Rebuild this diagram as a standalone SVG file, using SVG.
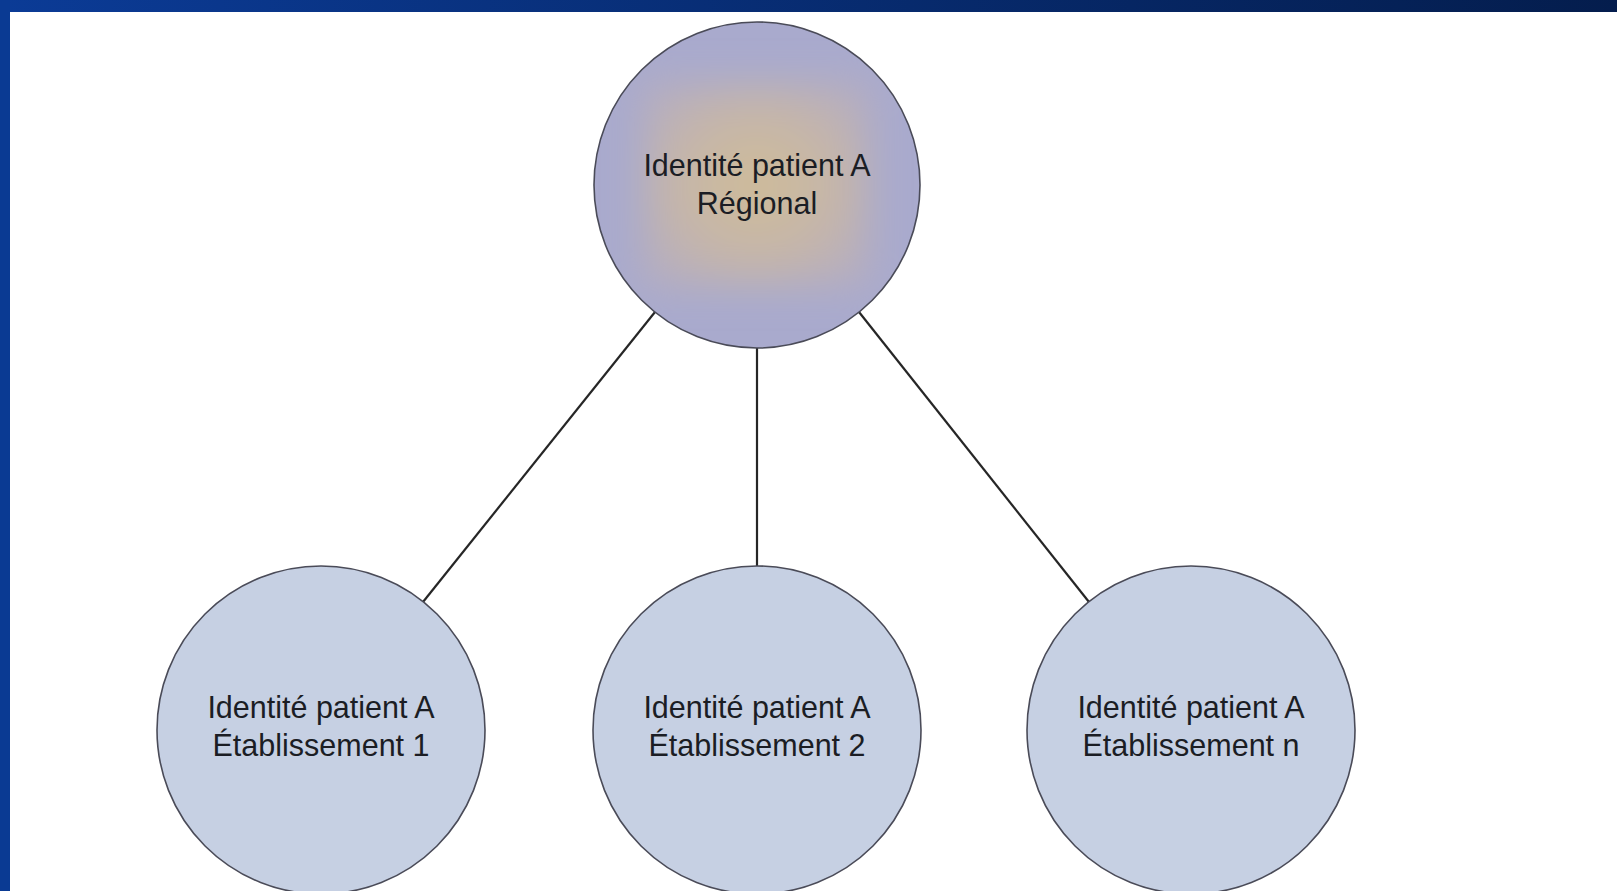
<svg xmlns="http://www.w3.org/2000/svg" width="1617" height="891" viewBox="0 0 1617 891">
  <style>
    .node-shape { stroke: #4a4b58; stroke-width: 1.6; }
    .leaf { fill: #c6d0e3; }
    .label { font-family: "Liberation Sans", Arial, sans-serif; font-size: 30.5px; fill: #1b1d24; text-anchor: middle; }
    .link { stroke: #262626; stroke-width: 2.2; fill: none; }
  </style>
  <defs>
    <linearGradient id="bannerGrad" x1="0" y1="0" x2="1" y2="0">
      <stop offset="0" stop-color="#0b3b96"/>
      <stop offset="1" stop-color="#041d4d"/>
    </linearGradient>
    <radialGradient id="glowGrad" cx="0.5" cy="0.5" r="0.6">
      <stop offset="0" stop-color="#cfbc98"/>
      <stop offset="0.55" stop-color="#c6b6a8"/>
      <stop offset="1" stop-color="#b6aebf"/>
    </radialGradient>
    <filter id="soften" x="-30%" y="-30%" width="160%" height="160%">
      <feGaussianBlur stdDeviation="18"/>
    </filter>
    <clipPath id="rootClip">
      <circle cx="757" cy="185" r="163"/>
    </clipPath>
  </defs>

  <!-- page background and frame -->
  <rect x="0" y="0" width="1617" height="891" fill="#ffffff"/>
  <rect x="0" y="0" width="1617" height="12" fill="url(#bannerGrad)"/>
  <rect x="0" y="0" width="10" height="891" fill="#0a3a93"/>

  <!-- links from the regional identity to each establishment -->
  <g id="connectors">
    <line class="link" x1="655" y1="312" x2="423" y2="602"/>
    <line class="link" x1="757" y1="348" x2="757" y2="566"/>
    <line class="link" x1="859" y1="312" x2="1089" y2="602"/>
  </g>

  <!-- regional identity -->
  <g id="node-regional">
    <circle cx="757" cy="185" r="163" fill="#a9aacd"/>
    <g clip-path="url(#rootClip)">
      <rect x="642" y="82" width="228" height="205" fill="url(#glowGrad)" filter="url(#soften)"/>
    </g>
    <circle class="node-shape" cx="757" cy="185" r="163" fill="none"/>
    <text class="label" x="757" y="176">Identité patient A</text>
    <text class="label" x="757" y="214">Régional</text>
  </g>

  <!-- establishment identities -->
  <g id="node-etab-1">
    <circle class="node-shape leaf" cx="321" cy="730" r="164"/>
    <text class="label" x="321" y="718">Identité patient A</text>
    <text class="label" x="321" y="756">Établissement 1</text>
  </g>

  <g id="node-etab-2">
    <circle class="node-shape leaf" cx="757" cy="730" r="164"/>
    <text class="label" x="757" y="718">Identité patient A</text>
    <text class="label" x="757" y="756">Établissement 2</text>
  </g>

  <g id="node-etab-n">
    <circle class="node-shape leaf" cx="1191" cy="730" r="164"/>
    <text class="label" x="1191" y="718">Identité patient A</text>
    <text class="label" x="1191" y="756">Établissement n</text>
  </g>
</svg>
